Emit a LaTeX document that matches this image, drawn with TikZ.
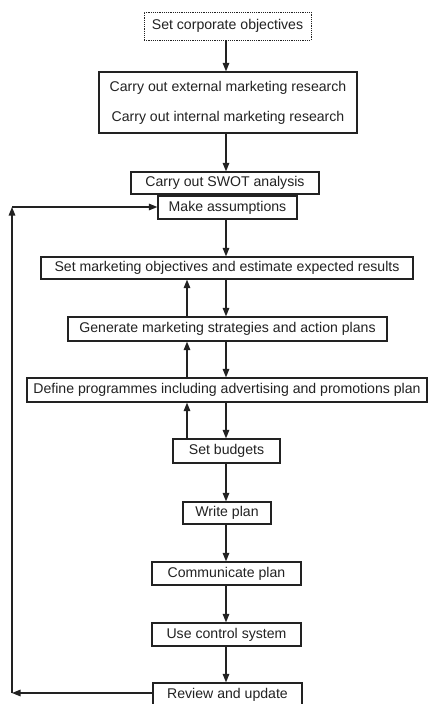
\documentclass[tikz,border=0pt]{standalone}
\usepackage{fontspec}
\setmainfont{Liberation Sans}
\usetikzlibrary{arrows.meta}
\definecolor{ink}{HTML}{222222}
\tikzset{
  box/.style={draw=ink, line width=1.2pt, inner sep=0pt, text=ink,
    font=\fontsize{14.1}{16}\selectfont, align=center},
  dotbox/.style={box, line width=1pt, dash pattern=on 1.2pt off 1pt},
  arr/.style={draw=ink, line width=1.3pt, -{Triangle[length=8.5pt,width=6.5pt]}}
}
\begin{document}
\begin{tikzpicture}[x=1pt,y=-1pt]
\useasboundingbox (0,0) rectangle (429,704);
\fill[white] (0,0) rectangle (429,704);
\coordinate (ax) at (226,0);
\coordinate (up) at (187,0);
\node[dotbox, minimum width=167pt, minimum height=28pt] (corp) at (227.5,26) {Set corporate objectives};
\node[box, minimum width=258pt, minimum height=61pt, font=\fontsize{14.1}{30}\selectfont] (res) at (228,102.5)
  {Carry out external marketing research\\Carry out internal marketing research};
\node[box, minimum width=188pt, minimum height=22pt] (swot) at (225,183) {Carry out SWOT analysis};
\node[box, minimum width=139pt, minimum height=23pt] (ass) at (227.5,207.5) {Make assumptions};
\node[box, minimum width=372pt, minimum height=22pt] (obj) at (227,268) {Set marketing objectives and estimate expected results};
\node[box, minimum width=319pt, minimum height=24pt] (gen) at (227.5,329) {Generate marketing strategies and action plans};
\node[box, minimum width=400pt, minimum height=24pt] (def) at (227,390) {Define programmes including advertising and promotions plan};
\node[box, minimum width=107pt, minimum height=24pt] (bud) at (226.5,451) {Set budgets};
\node[box, minimum width=88pt, minimum height=22pt] (wri) at (227,513) {Write plan};
\node[box, minimum width=149pt, minimum height=23pt] (com) at (226.5,573.5) {Communicate plan};
\node[box, minimum width=149pt, minimum height=23pt] (ctl) at (226.5,634.5) {Use control system};
\node[box, minimum width=149pt, minimum height=23pt] (rev) at (227.5,694.5) {Review and update};
\coordinate (cb) at (12,693);
\coordinate (ct) at (12,207);
% down arrows
\draw[arr] (corp.south -| ax) -- (res.north -| ax);
\draw[arr] (res.south -| ax) -- (swot.north -| ax);
\draw[arr] (ass.south -| ax) -- (obj.north -| ax);
\draw[arr] (obj.south -| ax) -- (gen.north -| ax);
\draw[arr] (gen.south -| ax) -- (def.north -| ax);
\draw[arr] (def.south -| ax) -- (bud.north -| ax);
\draw[arr] (bud.south -| ax) -- (wri.north -| ax);
\draw[arr] (wri.south -| ax) -- (com.north -| ax);
\draw[arr] (com.south -| ax) -- (ctl.north -| ax);
\draw[arr] (ctl.south -| ax) -- (rev.north -| ax);
% up arrows
\draw[arr] (gen.north -| up) -- (obj.south -| up);
\draw[arr] (def.north -| up) -- (gen.south -| up);
\draw[arr] (bud.north -| up) -- (def.south -| up);
% feedback loop
\draw[arr] (rev.west |- cb) -- (cb);
\draw[arr] (cb) -- (ct);
\draw[arr] (ct) -- (ass.west |- ct);
\end{tikzpicture}
\end{document}
